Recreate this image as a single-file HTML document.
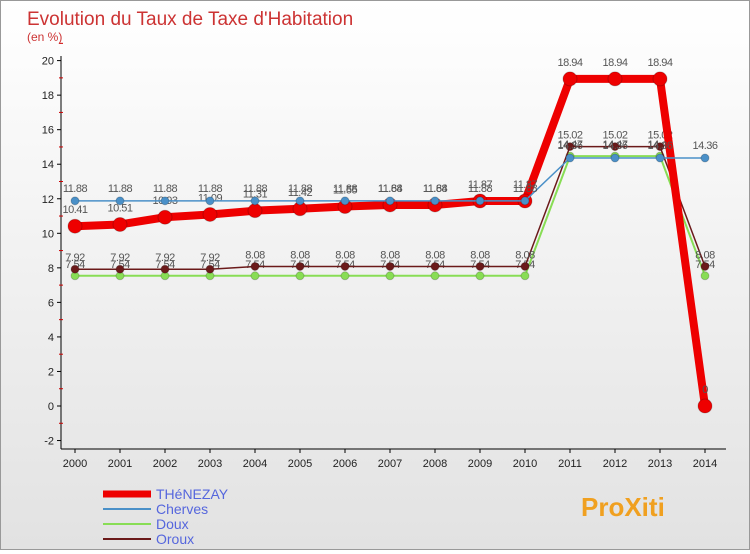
<!DOCTYPE html>
<html><head><meta charset="utf-8"><style>
body{margin:0;width:750px;height:550px;overflow:hidden;font-family:"Liberation Sans",sans-serif}
#w{position:relative;width:748px;height:548px;border:1px solid #999;background:linear-gradient(#fff,#e2e2e2)}
</style></head><body>
<div id="w">
<svg id="c" width="748" height="548"></svg>
</div>
<script>
const years=[2000,2001,2002,2003,2004,2005,2006,2007,2008,2009,2010,2011,2012,2013,2014];
const thenezay=[10.41,10.51,10.93,11.09,11.31,11.42,11.55,11.64,11.64,11.87,11.87,18.94,18.94,18.94,0];
const cherves=[11.88,11.88,11.88,11.88,11.88,11.88,11.88,11.88,11.88,11.88,11.88,14.36,14.36,14.36,14.36];
const doux=[7.54,7.54,7.54,7.54,7.54,7.54,7.54,7.54,7.54,7.54,7.54,14.47,14.47,14.47,7.54];
const oroux=[7.92,7.92,7.92,7.92,8.08,8.08,8.08,8.08,8.08,8.08,8.08,15.02,15.02,15.02,8.08];
const yTicks=[-2,0,2,4,6,8,10,12,14,16,18,20];
const NS="http://www.w3.org/2000/svg";
const svg=document.getElementById('c');
const X=i=>74+i*45, Y=v=>405-v*17.27;
function el(t,a,p){const e=document.createElementNS(NS,t);for(const k in a)e.setAttribute(k,a[k]);(p||svg).appendChild(e);return e;}
function tx(x,y,s,a){const e=el('text',Object.assign({x:x,y:y},a));e.textContent=s;return e;}
let t=tx(26,24,'Evolution du Taux de Taxe d\'Habitation',{fill:'#c33','font-size':19});

t=tx(26,40,'(en %)',{fill:'#c33','font-size':12});

let ax=el('line',{x1:60,y1:55,x2:60,y2:448,stroke:'#000'});

ax=el('line',{x1:60,y1:448,x2:725,y2:448,stroke:'#000'});

yTicks.forEach(v=>{el('line',{x1:56,x2:60,y1:Y(v),y2:Y(v),stroke:'#000'});
 el('line',{x1:58,x2:62,y1:Y(v+1),y2:Y(v+1),stroke:'#c00'});
 const l=tx(53,Y(v)+4,v,{'text-anchor':'end','font-size':11,fill:'#222'});
 });
years.forEach((y,i)=>{el('line',{x1:X(i),x2:X(i),y1:448,y2:452,stroke:'#000'});
 const l=tx(X(i),466,y,{'text-anchor':'middle','font-size':11,fill:'#222'});
 });
function series(d,col,w,r,name,lblDy){
 const g=el('g',{});
 el('polyline',{points:d.map((v,i)=>X(i)+','+Y(v)).join(' '),fill:'none',stroke:col,'stroke-width':w,'stroke-linejoin':'round'},g);
 d.forEach((v,i)=>{const c=el('circle',{cx:X(i),cy:Y(v),r:r,fill:col,stroke:'rgba(0,0,0,0.2)'},g);
  
  tx(X(i),Y(v)+lblDy,v,{'text-anchor':'middle','font-size':11,fill:'#555','letter-spacing':'-0.5'},g);});
}
series(doux,'#88dd55',2,4,'doux',-8);
series(oroux,'#6b1a1a',1.5,4,'oroux',-8);
series(thenezay,'#ee0000',8,7,'thenezay',-13);
series(cherves,'#4a90c8',1.5,4,'cherves',-9);
const leg=[['THéNEZAY','#ee0000',7],['Cherves','#4a90c8',2],['Doux','#88dd55',2],['Oroux','#6b1a1a',2]];
leg.forEach((l,i)=>{const g=el('g',{});
 el('line',{x1:102,x2:150,y1:493+i*15,y2:493+i*15,stroke:l[1],'stroke-width':l[2]},g);
 tx(155,498+i*15,l[0],{'font-size':14,fill:'#5566dd'},g);});
t=tx(580,515,'ProXiti',{'font-size':26,'font-weight':'bold',fill:'#f0a020'});

</script>
</body></html>
